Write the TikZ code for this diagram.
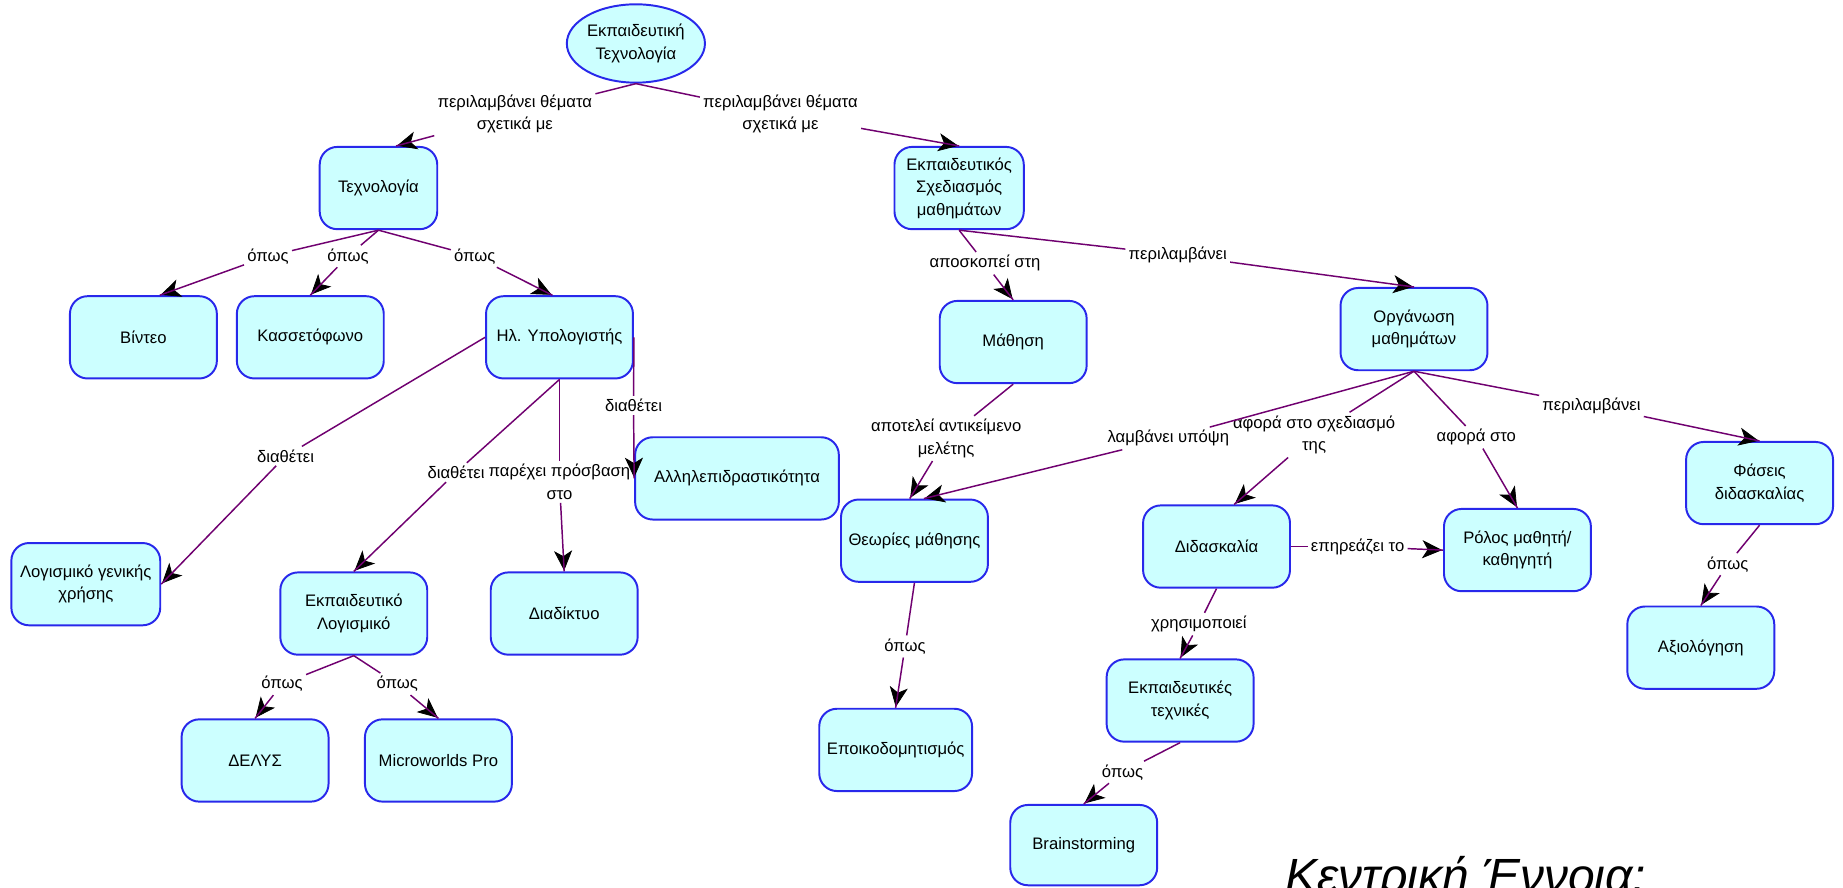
\documentclass[tikz,border=0pt]{standalone}
\usepackage{fontspec}
\setmainfont{Liberation Sans}
\usepackage{tikz}
\usetikzlibrary{positioning, calc, shapes.geometric, arrows.meta, decorations.markings}
\definecolor{cmapfill}{RGB}{204,255,255}
\definecolor{cmapborder}{RGB}{40,40,235}
\definecolor{cmapline}{RGB}{112,0,112}
\tikzstyle{Line} = [cmapline, line width=0.75pt]
\tikzstyle{Arrow} = [
%Link with the arrow head at its end:
cmapline, line width=0.75pt,
decoration={
markings,
mark=at position 1 with {
\arrow{Stealth[length=11pt, width=10pt, inset=3pt]}
}
},
preaction = {decorate}
]

\begin{document}
\begin{tikzpicture}[x=0.6pt, y=-0.6pt,
				concept/.style = {rectangle, rounded corners=9pt, draw=cmapborder, line width=1pt, fill=cmapfill, align=center, minimum width=75pt, minimum height=42pt, font=\fontsize{8.5}{11.5}\selectfont},
				central/.style = {ellipse, draw=cmapborder, line width=1pt, fill=cmapfill, align=center, minimum width=65pt, minimum height=40pt, inner sep=0pt, font=\fontsize{8.5}{11.5}\selectfont},
				linking/.style = {align=center, inner sep=1.5pt, font=\fontsize{8.5}{11.5}\selectfont},
			]
			\clip (0,0) rectangle (1568,755);
			\fill[white] (0,0) rectangle (1568,755);

			% concepts
			\node[central](ET) at (541,37){Εκπαιδευτική\\Τεχνολογία};
			\node[concept, minimum width=60pt](TE) at (322,160){Τεχνολογία};
			\node[concept](VI) at (122,287){Βίντεο};
			\node[concept](KA) at (264,287){Κασσετόφωνο};
			\node[concept](HY) at (476,287){Ηλ. Υπολογιστής};
			\node[concept, minimum width=104pt](AL) at (627,407){Αλληλεπιδραστικότητα};
			\node[concept, minimum width=76pt](LG) at (73,497){Λογισμικό γενικής\\χρήσης};
			\node[concept](EL) at (301,522){Εκπαιδευτικό\\Λογισμικό};
			\node[concept](DI) at (480,522){Διαδίκτυο};
			\node[concept](DE) at (217,647){ΔΕΛΥΣ};
			\node[concept](MW) at (373,647){Microworlds Pro};
			\node[concept, minimum width=66pt](ES) at (816,160){Εκπαιδευτικός\\Σχεδιασμός\\μαθημάτων};
			\node[concept](MA) at (862,291){Μάθηση};
			\node[concept](OR) at (1203,280){Οργάνωση\\μαθημάτων};
			\node[concept](TH) at (778,460){Θεωρίες μάθησης};
			\node[concept](DD) at (1035,465){Διδασκαλία};
			\node[concept](RO) at (1291,468){Ρόλος μαθητή/\\καθηγητή};
			\node[concept](FA) at (1497,411){Φάσεις\\διδασκαλίας};
			\node[concept](AX) at (1447,551){Αξιολόγηση};
			\node[concept](ETX) at (1004,596){Εκπαιδευτικές\\τεχνικές};
			\node[concept, minimum width=78pt](EP) at (762,638){Εποικοδομητισμός};
			\node[concept, minimum height=41pt](BR) at (922,719){Brainstorming};

			% linking phrases
			\node[linking](pt1) at (438,97){περιλαμβάνει θέματα\\σχετικά με};
			\node[linking](pt2) at (664,97){περιλαμβάνει θέματα\\σχετικά με};
			\node[linking](op1) at (228,218){όπως};
			\node[linking](op2) at (296,218){όπως};
			\node[linking](op3) at (404,218){όπως};
			\node[linking](dt1) at (243,388){διαθέτει};
			\node[linking](dt2) at (388,402){διαθέτει};
			\node[linking](pp) at (476,410){παρέχει πρόσβαση\\στο};
			\node[linking](dt3) at (539,345){διαθέτει};
			\node[linking](op4) at (240,582){όπως};
			\node[linking](op5) at (338,582){όπως};
			\node[linking](as) at (838,224){αποσκοπεί στη};
			\node[linking](pl1) at (1002,217){περιλαμβάνει};
			\node[linking](ak) at (805,373){αποτελεί αντικείμενο\\μελέτης};
			\node[linking](ly) at (994,373){λαμβάνει υπόψη};
			\node[linking](as2) at (1118,370){αφορά στο σχεδιασμό\\της};
			\node[linking](af) at (1256,372){αφορά στο};
			\node[linking](pl2) at (1354,345){περιλαμβάνει};
			\node[linking](ep) at (1155,465){επηρεάζει το};
			\node[linking](xr) at (1020,531){χρησιμοποιεί};
			\node[linking](op6) at (770,550){όπως};
			\node[linking](op7) at (955,657){όπως};
			\node[linking](op8) at (1470,480){όπως};

			\draw[Line](ET.south)--(pt1);
			\draw[Arrow](pt1)--($(TE.north)+(15,0)$);
			\draw[Line](ET.south)--(pt2);
			\draw[Arrow](pt2)--(ES.north);

			\draw[Line](TE.south)--(op1);
			\draw[Arrow](op1)--($(VI.north)+(14,0)$);
			\draw[Line](TE.south)--(op2);
			\draw[Arrow](op2)--(KA.north);
			\draw[Line](TE.south)--(op3);
			\draw[Arrow](op3)--($(HY.north)+(-6,0)$);

			\draw[Line](HY.west)--(dt1);
			\draw[Arrow](dt1)--(LG.east);
			\draw[Line](HY.south)--(dt2);
			\draw[Arrow](dt2)--(EL.north);
			\draw[Line](HY.south)--(pp);
			\draw[Arrow](pp)--(DI.north);
			\draw[Line](HY.east)--(dt3);
			\draw[Arrow](dt3)--(AL.west);

			\draw[Line](EL.south)--(op4);
			\draw[Arrow](op4)--(DE.north);
			\draw[Line](EL.south)--(op5);
			\draw[Arrow](op5)--(MW.north);

			\draw[Line](ES.south)--(as);
			\draw[Arrow](as)--(MA.north);
			\draw[Line](ES.south)--(pl1);
			\draw[Arrow](pl1)--(OR.north);

			\draw[Line](MA.south)--(ak);
			\draw[Arrow](ak)--($(TH.north)+(-4,0)$);
			\draw[Line](OR.south)--(ly);
			\draw[Arrow](ly)--($(TH.north)+(8,0)$);
			\draw[Line](OR.south)--(as2);
			\draw[Arrow](as2)--($(DD.north)+(15,0)$);
			\draw[Line](OR.south)--(af);
			\draw[Arrow](af)--(RO.north);
			\draw[Line](OR.south)--(pl2);
			\draw[Arrow](pl2)--(FA.north);

			\draw[Line](DD.east)--(ep);
			\draw[Arrow](ep)--(RO.west);
			\draw[Line](DD.south)--(xr);
			\draw[Arrow](xr)--(ETX.north);
			\draw[Line](TH.south)--(op6);
			\draw[Arrow](op6)--(EP.north);
			\draw[Line](ETX.south)--(op7);
			\draw[Arrow](op7)--(BR.north);
			\draw[Line](FA.south)--(op8);
			\draw[Arrow](op8)--(AX.north);

			% title, cut by the lower edge
			\node[anchor=base west, inner sep=0pt, font=\itshape\fontsize{24.5}{28}\selectfont](KE) at (1093,759){Κεντρική Έννοια:};
		\end{tikzpicture}
\end{document}
